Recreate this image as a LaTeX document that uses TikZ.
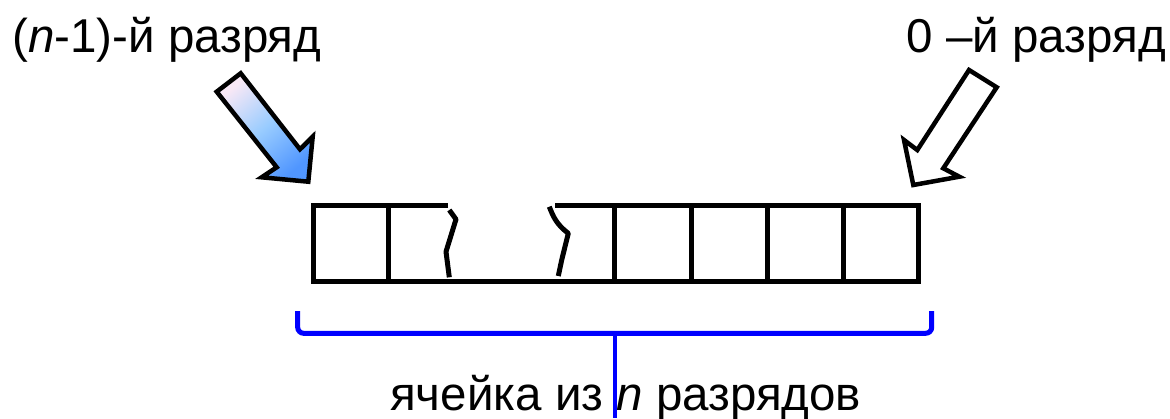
\documentclass[tikz,border=0pt]{standalone}
\usepackage{fontspec}
\setmainfont{Liberation Sans}
\definecolor{arrtop}{HTML}{F8E8F6}
\definecolor{arrmid}{HTML}{99CCFF}
\definecolor{arrbot}{HTML}{5096FF}
\definecolor{brblue}{HTML}{0000FF}
\begin{document}
\begin{tikzpicture}[x=1pt,y=-1pt,
  lbl/.style={inner sep=0pt,font=\fontsize{47.5}{56}\selectfont},
  cellline/.style={line width=5pt,line cap=butt,line join=miter},
  breakline/.style={line width=5pt,line cap=butt,line join=round},
  blockarrow/.style={line width=4.5pt,line join=miter},
  bracket/.style={line width=5pt,brblue,rounded corners=6pt}]
\useasboundingbox (0,0) rectangle (1170,418);
% labels
\node[lbl,anchor=base west] (lblleft) at (12,52) {(\textit{n}-1)-й разряд};
\node[lbl,anchor=base east] (lblright) at (1166,52) {0 –й разряд};
\node[lbl,anchor=base west] (lblbottom) at (390,410) {ячейка из \textit{n} разрядов};
% cells
\coordinate (bl) at (313,281);
\coordinate (br) at (918,281);
\draw[cellline] (448,205) -- (313,205) -- (bl) -- (br) -- (918,205) -- (555,205);
\foreach \x in {388.7,614,691,767,843} \draw[cellline] (\x,205) -- (\x,281);
% breaks
\draw[breakline] (449.3,210) -- (456,219.3) -- (446,251.7) -- (449.3,277.3);
\draw[breakline] (549.3,206.7) .. controls (553,216) and (556,224) .. (568.3,233.3) -- (561.7,260) -- (558.3,276);
% left gradient arrow
\path[blockarrow,draw=black,top color=arrtop,bottom color=arrbot,middle color=arrmid,shading angle=40]
  (216.7,91.7) -- (240.7,73.3) -- (300,149.3) -- (312.7,136.7) -- (308.3,181.7) -- (261.7,177.3) -- (276.7,167.3) -- cycle;
% right white arrow
\draw[blockarrow,fill=white]
  (969,70) -- (996.7,87.3) -- (943.3,168.3) -- (959.3,176.7) -- (913.3,185) -- (904,140) -- (917.3,150) -- cycle;
% bracket
\coordinate (brl) at (297.7,311);
\coordinate (brr) at (931.7,311);
\coordinate (brm) at (614.7,333.3);
\coordinate (brstem) at (614.7,418);
\draw[bracket] (brl) -- (297.7,333.3) -- (931.7,333.3) -- (brr);
\draw[line width=4pt,brblue] (brm) -- (brstem);
\end{tikzpicture}
\end{document}
